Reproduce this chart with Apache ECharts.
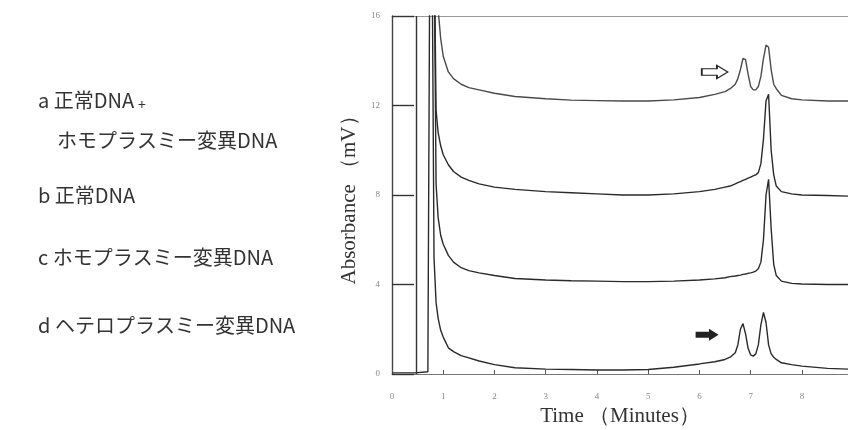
<!DOCTYPE html>
<html lang="ja">
<head>
    <meta charset="UTF-8">
    <title>Chromatogram</title>
    <script src="https://cdn.jsdelivr.net/npm/echarts@6/dist/echarts.min.js"></script>
    <style>
        body { margin: 0; padding: 0; background: #fff; }
        #box { width: 848px; height: 430px; }
    </style>
</head>
<body>
<div id="box"></div>
<script>
    // 時間 (分)
    var times = [0, 0.45, 0.7, 0.74, 0.78, 0.82, 0.86, 0.9, 0.95, 1.0, 1.1, 1.2, 1.35, 1.5, 1.7, 2.0, 2.4, 3.0, 3.5, 4.0, 4.5, 5.0, 5.5, 6.0, 6.3, 6.5, 6.6, 6.7, 6.75, 6.8, 6.85, 6.9, 6.95, 7.0, 7.05, 7.1, 7.15, 7.2, 7.25, 7.3, 7.35, 7.4, 7.45, 7.5, 7.6, 7.8, 8.0, 8.5, 8.9];

    // a 正常DNA + ホモプラスミー変異DNA
    var traceA = [null, null, null, 20, 20, 20, 20, 16.3, 15.0, 14.2, 13.5, 13.2, 12.95, 12.8, 12.7, 12.55, 12.4, 12.3, 12.24, 12.22, 12.2, 12.2, 12.25, 12.36, 12.5, 12.62, 12.75, 12.95, 13.2, 13.6, 14.1, 14.05, 13.4, 12.85, 12.7, 12.7, 12.85, 13.3, 14.1, 14.7, 14.6, 13.6, 12.95, 12.75, 12.45, 12.3, 12.25, 12.2, 12.2];
    // b 正常DNA
    var traceB = [null, null, null, 20, 20, 20, 11.8, 10.8, 10.2, 9.8, 9.35, 9.05, 8.8, 8.65, 8.5, 8.35, 8.25, 8.15, 8.1, 8.05, 8.0, 8.0, 8.05, 8.15, 8.25, 8.35, 8.4, 8.5, 8.55, 8.6, 8.65, 8.7, 8.75, 8.8, 8.85, 8.9, 9.0, 9.4, 10.5, 12.2, 12.5, 10.0, 8.9, 8.4, 8.15, 8.05, 8.0, 7.98, 7.95];
    // c ホモプラスミー変異DNA
    var traceC = [null, null, null, 20, 20, 20, 8.5, 7.0, 6.2, 5.8, 5.3, 5.0, 4.75, 4.62, 4.52, 4.4, 4.27, 4.2, 4.17, 4.15, 4.13, 4.13, 4.15, 4.2, 4.25, 4.3, 4.35, 4.38, 4.4, 4.42, 4.45, 4.47, 4.5, 4.52, 4.55, 4.6, 4.7, 5.0, 6.0, 8.0, 8.7, 6.5, 4.9, 4.4, 4.15, 4.05, 4.02, 4.0, 4.0];
    // d ヘテロプラスミー変異DNA
    var traceD = [0.05, 0.05, 0.1, 20, 20, 5.2, 3.2, 2.5, 1.95, 1.65, 1.17, 1.0, 0.82, 0.72, 0.58, 0.42, 0.28, 0.22, 0.2, 0.18, 0.18, 0.2, 0.3, 0.45, 0.55, 0.65, 0.75, 0.95, 1.3, 2.0, 2.25, 1.8, 1.15, 0.85, 0.8, 0.9, 1.3, 2.2, 2.75, 2.3, 1.3, 0.9, 0.75, 0.65, 0.5, 0.42, 0.35, 0.25, 0.22];

    var yTicks = [0, 4, 8, 12, 16];
    var sampleLabels = ['a 正常DNA', 'ホモプラスミー変異DNA', 'b 正常DNA', 'c ホモプラスミー変異DNA', 'd ヘテロプラスミー変異DNA'];

    function pairs(vals) {
        return times.map(function (t, i) { return [t, vals[i]]; });
    }

    var arrowPath = 'path://M0,3 L14,3 L14,0 L24,6 L14,12 L14,9 L0,9 Z';
    var lineStyle = { color: '#2a2a2a', width: 1.4 };
    var serif = 'Liberation Serif';
    var cjkFont = '20px "Noto Sans CJK JP"';

    var myChart = echarts.init(document.getElementById('box'));
    var option = {
        animation: false,
        backgroundColor: '#fff',
        grid: { left: 392, right: 0, top: 16, bottom: 56, outerBoundsMode: 'none' },
        xAxis: [{
            type: 'value',
            min: 0, max: 8.9, interval: 1,
            name: 'Time （Minutes）',
            nameLocation: 'middle',
            nameGap: 23,
            nameTextStyle: { fontFamily: serif, fontSize: 21, color: '#333' },
            axisLine: { lineStyle: { color: '#777', width: 1.2 } },
            axisTick: { inside: true, length: 4, lineStyle: { color: '#555' } },
            axisLabel: { fontFamily: serif, fontSize: 9, color: '#888', margin: 18, showMaxLabel: false },
            splitLine: { show: false }
        }, {
            type: 'value',
            position: 'top',
            min: 0, max: 8.9,
            axisLine: { show: true, lineStyle: { color: '#999', width: 1.2 } },
            axisTick: { show: false },
            axisLabel: { show: false },
            splitLine: { show: false }
        }],
        yAxis: {
            type: 'value',
            min: 0, max: 16, interval: 4,
            name: 'Absorbance （mV）',
            nameLocation: 'middle',
            nameGap: 19,
            nameTextStyle: { fontFamily: serif, fontSize: 21, color: '#333' },
            axisLine: { show: true, lineStyle: { color: '#444', width: 1.4 } },
            axisTick: { show: true, inside: true, length: 22, lineStyle: { color: '#333', width: 1.4 } },
            axisLabel: {
                fontFamily: serif, fontSize: 9, color: '#888', margin: 12,
                formatter: function (v) { return yTicks.indexOf(v) >= 0 ? String(v) : ''; }
            },
            splitLine: { show: false }
        },
        series: [
            {
                name: 'a', type: 'line', data: pairs(traceA), symbol: 'none',
                lineStyle: { color: '#4a4a4a', width: 1.4 },
                markPoint: {
                    symbol: arrowPath, symbolSize: [26, 13], silent: true,
                    itemStyle: { color: '#fff', borderColor: '#222', borderWidth: 1.3 },
                    label: { show: false },
                    data: [{ coord: [6.3, 13.5] }]
                }
            },
            { name: 'b', type: 'line', data: pairs(traceB), symbol: 'none', lineStyle: lineStyle },
            { name: 'c', type: 'line', data: pairs(traceC), symbol: 'none', lineStyle: lineStyle },
            {
                name: 'd', type: 'line', data: pairs(traceD), symbol: 'none', lineStyle: lineStyle,
                markLine: {
                    silent: true, symbol: 'none', label: { show: false },
                    lineStyle: { color: '#333', type: 'solid', width: 1.4 },
                    data: [{ xAxis: 0.48 }]
                },
                markPoint: {
                    symbol: arrowPath, symbolSize: [23, 12], silent: true,
                    itemStyle: { color: '#222' },
                    label: { show: false },
                    data: [{ coord: [6.15, 1.75] }]
                }
            }
        ],
        graphic: [
            { type: 'text', left: 38, top: 90, style: { text: sampleLabels[0], font: cjkFont, fill: '#333' } },
            { type: 'text', left: 138, top: 98, style: { text: '+', font: '14px "Noto Sans CJK JP"', fill: '#333' } },
            { type: 'text', left: 57, top: 130, style: { text: sampleLabels[1], font: cjkFont, fill: '#333' } },
            { type: 'text', left: 38, top: 185, style: { text: sampleLabels[2], font: cjkFont, fill: '#333' } },
            { type: 'text', left: 38, top: 247, style: { text: sampleLabels[3], font: cjkFont, fill: '#333' } },
            { type: 'text', left: 38, top: 315, style: { text: sampleLabels[4], font: cjkFont, fill: '#333' } }
        ]
    };
    myChart.setOption(option);
</script>
</body>
</html>
